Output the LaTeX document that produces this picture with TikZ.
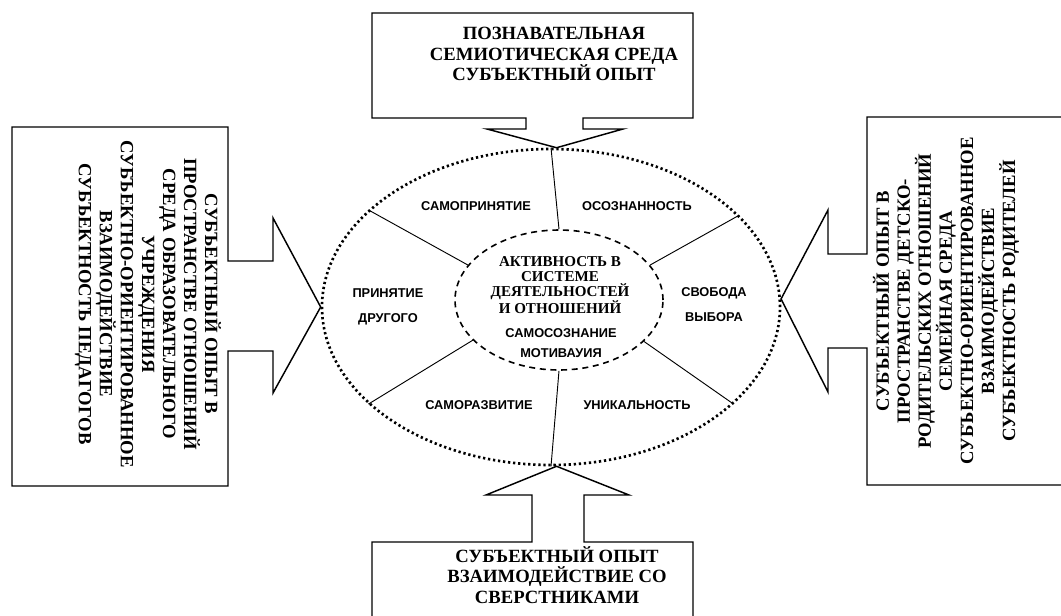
\documentclass[tikz,border=0pt]{standalone}
\usepackage{fontspec}
\setmainfont{Liberation Serif}
\setsansfont{Liberation Sans}
\usetikzlibrary{shapes.geometric}

\begin{document}
\begin{tikzpicture}[
    x=0.75pt, y=-0.75pt,
    outline/.style={line width=1.1pt, line join=miter},
    spoke/.style={line width=0.7pt},
    boxtext/.style={align=center, inner sep=0pt, font=\fontsize{14}{15.6}\selectfont\bfseries},
    sidetext/.style={align=center, inner sep=0pt, font=\fontsize{14}{15.8}\selectfont\bfseries},
    coretext/.style={align=center, inner sep=0pt, font=\fontsize{11.3}{11.3}\selectfont\bfseries},
    quality/.style={align=center, inner sep=0pt, font=\sffamily\fontsize{9.6}{18.8}\selectfont\bfseries}
]
\useasboundingbox (0,0) rectangle (1061,615);

% the two rings
\node[ellipse, draw, line width=2pt, dash pattern=on 1.7pt off 2.1pt,
      minimum width=343.5pt, minimum height=237pt, inner sep=0pt] (ring) at (551,307) {};
\node[ellipse, draw, line width=1.2pt, dash pattern=on 4.5pt off 3.5pt,
      minimum width=156pt, minimum height=105pt, inner sep=0pt] (core) at (559,300) {};

\draw[spoke] (core.north) -- (ring.north);
\draw[spoke] (core.south) -- (ring.south);
\draw[spoke] (core.159) -- (ring.152);
\draw[spoke] (core.205) -- (ring.208);
\draw[spoke] (core.21) -- (ring.26);
\draw[spoke] (core.334) -- (ring.332);

% block arrows
\draw[outline] (583,118) -| (693,13) -| (372,118) -- (526,118) -- (526,129)
    -- (487,129) -- (ring.88) -- (623,129) -- (583,129) -- cycle;
\draw[outline] (584,542) -| (693,625) -| (372,542) -- (532,542) -- (532,495)
    -- (486,495) -- (ring.-88) -- (629,495) -- (584,495) -- cycle;
\draw[outline] (228,261) -- (228,127) -- (12,127) -- (12,486) -- (228,486) -- (228,351)
    -- (273,351) -- (273,393) -- (ring.west) -- (273,218) -- (273,261) -- cycle;
\draw[outline] (867,254) -- (867,117) -- (1065,117) -- (1065,485) -- (867,485) -- (867,348)
    -- (828,348) -- (828,392) -- (ring.2) -- (828,210) -- (828,254) -- cycle;

% box texts
\node[boxtext] (cogn) at (554,54) {ПОЗНАВАТЕЛЬНАЯ\\СЕМИОТИЧЕСКАЯ СРЕДА\\СУБЪЕКТНЫЙ ОПЫТ};
\node[boxtext] (peers) at (557,575) {СУБЪЕКТНЫЙ ОПЫТ\\ВЗАИМОДЕЙСТВИЕ СО\\СВЕРСТНИКАМИ};
\node[sidetext, rotate=-90] (school) at (148,304) {СУБЪЕКТНЫЙ ОПЫТ В\\ПРОСТРАНСТВЕ ОТНОШЕНИЙ\\СРЕДА ОБРАЗОВАТЕЛЬНОГО\\УЧРЕЖДЕНИЯ\\СУБЪЕКТНО-ОРИЕНТИРОВАННОЕ\\ВЗАИМОДЕЙСТВИЕ\\СУБЪЕКТНОСТЬ ПЕДАГОГОВ};
\node[sidetext, rotate=90] (family) at (946,301) {СУБЪЕКТНЫЙ ОПЫТ В\\ПРОСТРАНСТВЕ ДЕТСКО-\\РОДИТЕЛЬСКИХ ОТНОШЕНИЙ\\СЕМЕЙНАЯ СРЕДА\\СУБЪЕКТНО-ОРИЕНТИРОВАННОЕ\\ВЗАИМОДЕЙСТВИЕ\\СУБЪЕКТНОСТЬ РОДИТЕЛЕЙ};

% inside the rings
\node[coretext] (activity) at (560,285) {АКТИВНОСТЬ В\\СИСТЕМЕ\\ДЕЯТЕЛЬНОСТЕЙ\\И ОТНОШЕНИЙ};
\node[quality, font=\sffamily\fontsize{9.6}{15}\selectfont\bfseries] (selfaware) at (561,343) {САМОСОЗНАНИЕ\\МОТИВАУИЯ};
\node[quality] (selfaccept) at (476,206) {САМОПРИНЯТИЕ};
\node[quality] (aware) at (637,206) {ОСОЗНАННОСТЬ};
\node[quality] (other) at (388,307) {ПРИНЯТИЕ\\ДРУГОГО};
\node[quality] (choice) at (714,305) {СВОБОДА\\ВЫБОРА};
\node[quality] (selfdev) at (479,405) {САМОРАЗВИТИЕ};
\node[quality] (unique) at (637,405) {УНИКАЛЬНОСТЬ};

\end{tikzpicture}
\end{document}
